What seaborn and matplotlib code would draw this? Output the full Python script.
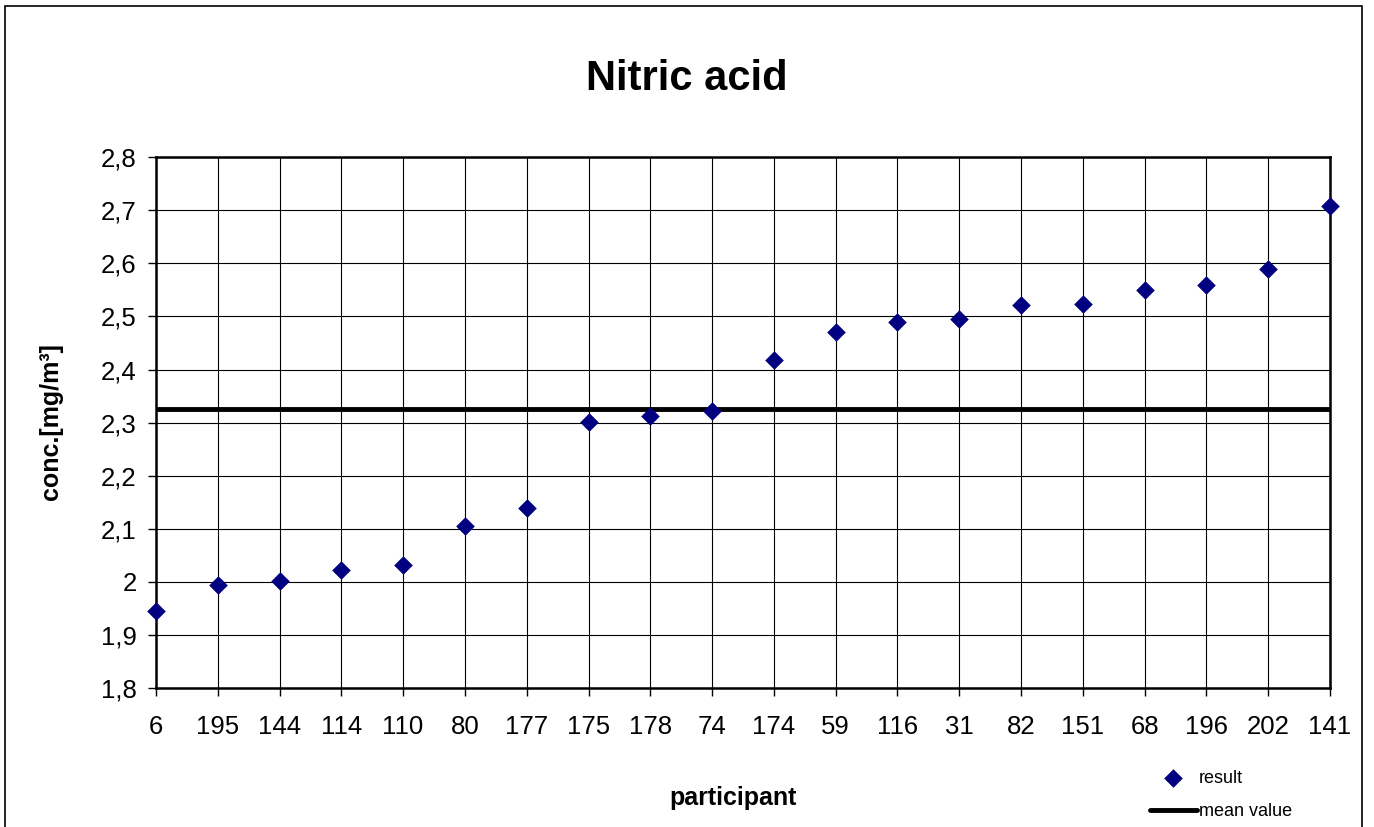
import numpy as np
import pandas as pd
import matplotlib
matplotlib.use("Agg")
import matplotlib.pyplot as plt
import seaborn as sns
from matplotlib.patches import Rectangle
from matplotlib.ticker import FuncFormatter, MultipleLocator

# participant codes, sorted by result
participants = ["6", "195", "144", "114", "110", "80", "177", "175", "178", "74",
                "174", "59", "116", "31", "82", "151", "68", "196", "202", "141"]
results = [1.945, 1.994, 2.001, 2.022, 2.032, 2.105, 2.139, 2.301, 2.312, 2.322,
           2.418, 2.470, 2.490, 2.496, 2.522, 2.524, 2.550, 2.560, 2.590, 2.708]
mean_value = 2.325

df = pd.DataFrame({"participant": participants, "result": results})

sns.set_theme(style="white")
plt.rcParams["font.family"] = ["Liberation Sans", "DejaVu Sans"]
for k in ["text.color", "axes.labelcolor", "xtick.color", "ytick.color"]:
    plt.rcParams[k] = "black"

fig = plt.figure(figsize=(13.74, 8.27), dpi=100)
ax = fig.add_axes([0.1135, 0.168, 0.8545, 0.642])

ax.axhline(mean_value, color="black", lw=3.5, zorder=3, label="mean value")
sns.scatterplot(data=df, x="participant", y="result", marker="D", s=90,
                color="#000080", edgecolor="#000080", linewidth=0, zorder=4,
                label="result", ax=ax, clip_on=False)

ax.set_xlim(0, len(participants) - 1)
ax.set_ylim(1.8, 2.8)
ax.yaxis.set_major_locator(MultipleLocator(0.1))
ax.yaxis.set_major_formatter(FuncFormatter(lambda v, p: f"{v:.1f}".replace(".", ",").replace(",0", "")))
ax.grid(True, color="black", lw=0.8)
ax.set_axisbelow(True)
for s in ax.spines.values():
    s.set_color("black")
    s.set_linewidth(1.8)

ax.tick_params(axis="both", which="major", direction="out", length=6, width=1,
               color="black", labelsize=18.5, bottom=True, left=True)
ax.tick_params(axis="x", pad=13.5)
ax.tick_params(axis="y", pad=8)
ax.set_xlabel("")
ax.set_ylabel("")

fig.text(0.5, 1 - 79 / 827, "Nitric acid", fontsize=30, fontweight="bold",
         ha="center", va="center")
fig.text(733 / 1374, 1 - 798 / 827, "participant", fontsize=18, fontweight="bold",
         ha="center", va="center")
fig.text(51 / 1374, 1 - 422 / 827, "conc.[mg/m³]", fontsize=18, fontweight="bold",
         ha="center", va="center", rotation=90)

handles, labels = ax.get_legend_handles_labels()
order = [labels.index("result"), labels.index("mean value")]
ax.legend([handles[i] for i in order], [labels[i] for i in order],
          loc="upper left", bbox_to_anchor=(1150 / 1374, 1 - 770 / 827),
          bbox_transform=fig.transFigure, frameon=False, fontsize=13,
          handlelength=2.6, handletextpad=0.1, labelspacing=0.9, borderpad=0,
          borderaxespad=0)

fig.patches.append(Rectangle((0.004, -0.02), 0.987, 1.013, transform=fig.transFigure,
                             fill=False, edgecolor="black", lw=1.2))

fig.savefig("out.png", dpi=100, facecolor="white")
